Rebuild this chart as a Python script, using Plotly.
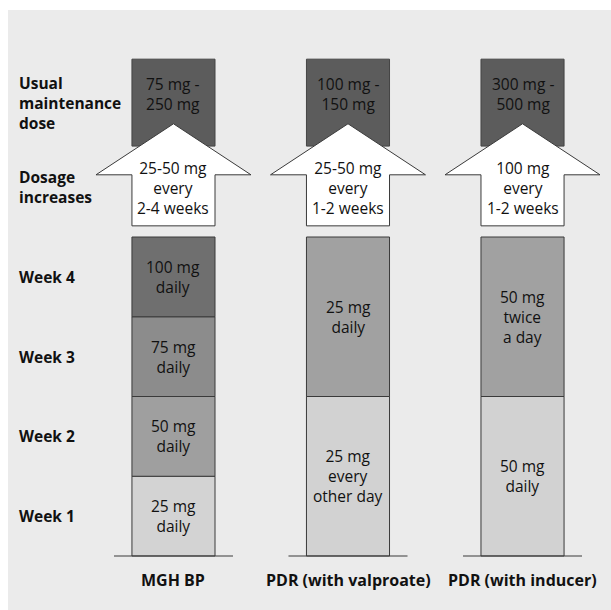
import plotly.graph_objects as go

# ---------------- data ----------------
columns = ["MGH BP", "PDR (with valproate)", "PDR (with inducer)"]
maintenance_dose = ["75 mg -<br>250 mg", "100 mg -<br>150 mg", "300 mg -<br>500 mg"]
dosage_increases = ["25-50 mg<br>every<br>2-4 weeks", "25-50 mg<br>every<br>1-2 weeks", "100 mg<br>every<br>1-2 weeks"]
week_labels = ["Week 1", "Week 2", "Week 3", "Week 4"]
upper_labels = ["Dosage<br>increases", "Usual<br>maintenance<br>dose"]

# duration (weeks) of each titration step, bottom to top
mgh_weeks = [1, 1, 1, 1]
mgh_text = ["25 mg<br>daily", "50 mg<br>daily", "75 mg<br>daily", "100 mg<br>daily"]
valp_weeks = [2, 2]
valp_text = ["25 mg<br>every<br>other day", "25 mg<br>daily"]
ind_weeks = [2, 2]
ind_text = ["50 mg<br>daily", "50 mg<br>twice<br>a day"]

# ---------------- styles / geometry ----------------
mgh_colors = ["#d3d3d3", "#9f9f9f", "#8c8c8c", "#6f6f6f"]
two_step_colors = ["#d2d2d2", "#a1a1a1"]
dark_box = "#5c5c5c"
edge = "#3a3a3a"
TXT = "#111111"
FONT = "Open Sans"
IN_SIZE = 15.5
BAR_W = 0.476
ARROW_BASE, ARROW_WING, ARROW_TIP = 4.14, 4.78, 5.42
WING_HALF = 0.444
BOX_BOTTOM, BOX_TOP = 5.14, 6.23
BASE_HALF = 0.341
LABEL_X = -0.897

fig = go.Figure()

cols_data = [(mgh_weeks, mgh_text, mgh_colors),
             (valp_weeks, valp_text, two_step_colors),
             (ind_weeks, ind_text, two_step_colors)]

shapes = [dict(type="rect", xref="paper", yref="paper", x0=8/611, x1=1, y0=0, y1=1-10/610,
               fillcolor="#ebebeb", line=dict(width=0), layer="below")]
annotations = []

for i, (weeks, texts, colors) in enumerate(cols_data):
    bases = [sum(weeks[:k]) for k in range(len(weeks))]
    fig.add_trace(go.Bar(
        x=[i] * len(weeks), y=weeks, base=bases, width=BAR_W,
        marker=dict(color=colors, line=dict(color=edge, width=1)),
        showlegend=False, hoverinfo="skip"))
    for b, w, t in zip(bases, weeks, texts):
        annotations.append(dict(x=i, y=b + w / 2, text=t, showarrow=False,
                                font=dict(family=FONT, size=IN_SIZE, color=TXT)))
    # baseline
    shapes.append(dict(type="line", x0=i - BASE_HALF, x1=i + BASE_HALF, y0=0, y1=0,
                       line=dict(color=edge, width=1.2)))
    # maintenance dose box
    shapes.append(dict(type="rect", x0=i - BAR_W / 2, x1=i + BAR_W / 2, y0=BOX_BOTTOM, y1=BOX_TOP,
                       fillcolor=dark_box, line=dict(color="#444444", width=1)))
    # arrow
    h = BAR_W / 2
    path = (f"M {i-h},{ARROW_BASE} L {i-h},{ARROW_WING} L {i-WING_HALF},{ARROW_WING} "
            f"L {i},{ARROW_TIP} L {i+WING_HALF},{ARROW_WING} L {i+h},{ARROW_WING} "
            f"L {i+h},{ARROW_BASE} Z")
    shapes.append(dict(type="path", path=path, fillcolor="white", line=dict(color=edge, width=1)))
    annotations.append(dict(x=i, y=4.62, text=dosage_increases[i],
                            showarrow=False, font=dict(family=FONT, size=IN_SIZE, color=TXT)))
    annotations.append(dict(x=i, y=5.79, text=maintenance_dose[i], showarrow=False,
                            font=dict(family=FONT, size=IN_SIZE, color=TXT)))
    annotations.append(dict(x=i, y=-0.30, text=f"<b>{columns[i]}</b>", showarrow=False,
                            font=dict(family=FONT, size=16, color=TXT)))

for k, wl in enumerate(week_labels):
    annotations.append(dict(x=LABEL_X, y=k + 0.5, text=f"<b>{wl}</b>", showarrow=False,
                            xanchor="left", align="left",
                            font=dict(family=FONT, size=15.5, color=TXT)))
for yv, ul in zip([4.63, 5.68], upper_labels):
    annotations.append(dict(x=LABEL_X, y=yv, text=f"<b>{ul}</b>", showarrow=False,
                            xanchor="left", align="left",
                            font=dict(family=FONT, size=15.5, color=TXT)))

fig.update_layout(
    width=611, height=610,
    margin=dict(l=0, r=0, t=0, b=0),
    paper_bgcolor="white", plot_bgcolor="rgba(0,0,0,0)",
    barmode="overlay",
    xaxis=dict(range=[-0.994, 2.507], visible=False, fixedrange=True),
    yaxis=dict(range=[-0.677, 6.972], visible=False, fixedrange=True),
    shapes=shapes, annotations=annotations,
)

fig.write_html("out.html", config={"displayModeBar": False},
               post_script="document.body.style.margin='0';document.body.style.overflow='hidden';")
